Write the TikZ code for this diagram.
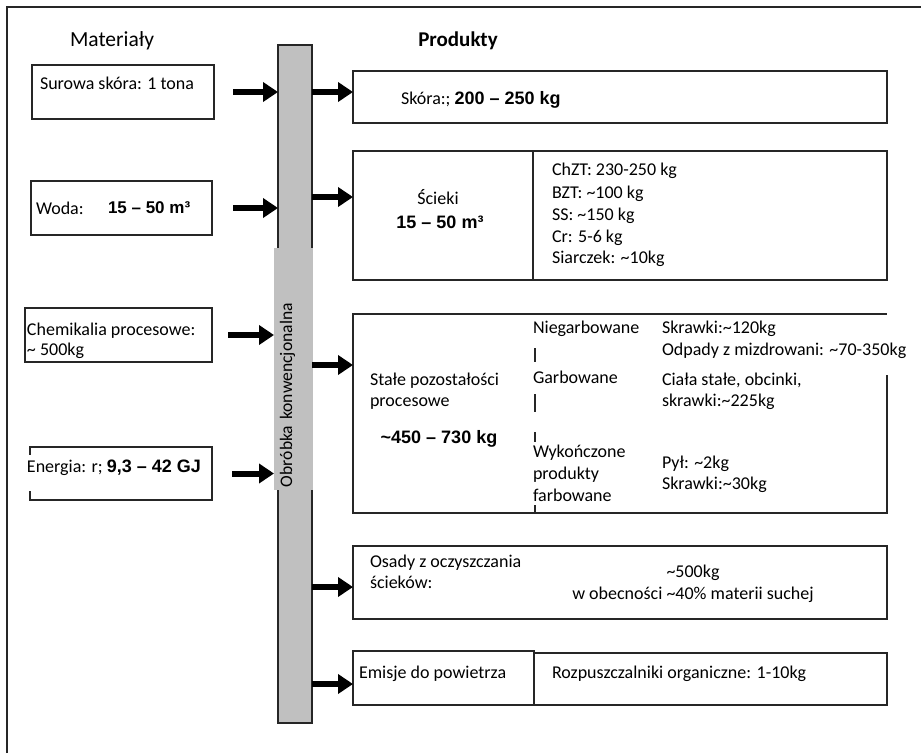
\documentclass[tikz,border=0pt]{standalone}
\usepackage{fontspec}
\setmainfont{Carlito}
\newfontfamily\numfont{Liberation Sans}
\usetikzlibrary{arrows.meta}

\definecolor{barfill}{HTML}{C0C0C0}
\definecolor{edge}{HTML}{262626}

% bold figures set in a grotesque face
\newcommand\bnum[1]{{\numfont\bfseries #1}}

\begin{document}
\begin{tikzpicture}[x=1pt,y=-1pt,
  every node/.style={inner sep=0pt, outer sep=0pt},
  txt/.style={anchor=base west, font=\fontsize{18}{22}\selectfont},
  ctxt/.style={anchor=base, font=\fontsize{18}{22}\selectfont},
  head/.style={anchor=base, font=\fontsize{21.5}{26}\selectfont},
  box/.style={draw=edge, line width=2pt, anchor=north west},
  openbox/.style={anchor=north west},
  edgeline/.style={draw=edge, line width=2pt},
  tick/.style={draw=edge, line width=1.4pt},
  bigarrow/.style={line width=6pt, -{Triangle[length=15pt,width=19pt]}}]

\useasboundingbox (0,0) rectangle (921,753);

% outer frame (top and left sides)
\draw[line width=2pt, draw=edge] (7,753) -- (7,7) -- (921,7);

% headings
\node[head] (hmat) at (112,46) {Materiały};
\node[head, font=\fontsize{21}{26}\selectfont\bfseries] (hprod) at (458,46) {Produkty};

% central process bar
\node[draw=edge, fill=barfill, line width=2pt, minimum width=34pt, minimum height=678pt, anchor=north west] (bar) at (278,45) {};
\node[fill=barfill, rotate=90, anchor=north west, minimum width=242pt,
      text height=18pt, text depth=21pt, text width=236pt, align=left, inner xsep=3pt,
      font=\fontsize{17.6}{20}\selectfont] (barlabel) at (274,490) {Obróbka konwencjonalna};

% ---- inputs ----
\node[box, minimum width=182pt, minimum height=54pt] (surowa) at (32,65) {};
\node[txt] (tsurowa) at (40,89) {Surowa skóra: 1 tona};

\node[box, minimum width=181pt, minimum height=54pt] (woda) at (31,181) {};
\node[txt] (twoda) at (36,214) {Woda:};
\node[txt, font=\fontsize{17}{20}\selectfont] (twodav) at (108,213) {\bnum{15 – 50 m³}};

\node[box, minimum width=187pt, minimum height=54pt] (chem) at (25,308) {};
\node[txt] (tchem1) at (27,335) {Chemikalia procesowe:};
\node[txt] (tchem2) at (27,355) {\textasciitilde{} 500kg};

\node[openbox, minimum width=182pt, minimum height=53pt] (energia) at (30,447) {};
\draw[edgeline] (energia.west |- 0,455) -- (energia.north west) -- (energia.north east)
  -- (energia.south east) -- (energia.south west) -- (energia.west |- 0,491);
\node[txt, fill=white, text height=17pt, text depth=19pt] (tenergia) at (27,472) {Energia: r; \bnum{9,3 – 42 GJ}};

\draw[bigarrow] ([xshift=19pt]surowa.east) -- (bar.west |- surowa.east);
\draw[bigarrow] ([xshift=21pt]woda.east) -- (bar.west |- woda.east);
\draw[bigarrow] ([xshift=16pt]chem.east) -- (barlabel.north |- chem.east);
\draw[bigarrow] ([xshift=20pt]energia.east) -- (barlabel.north |- energia.east);

% ---- products ----
\node[box, minimum width=534pt, minimum height=52pt] (skora) at (353,71) {};
\node[txt] (tskora) at (401,104) {Skóra:; \bnum{200 – 250 kg}};

\node[box, minimum width=534pt, minimum height=129pt] (scieki) at (353,151) {};
\draw[edgeline] (533,0 |- scieki.north) -- (533,0 |- scieki.south);
\node[ctxt] (tscieki1) at (438,204) {Ścieki};
\node[ctxt] (tscieki2) at (440,228) {\bnum{15 – 50 m³}};
\node[txt] (tsc1) at (552,175) {ChZT: 230-250 kg};
\node[txt] (tsc2) at (552,198) {BZT: \textasciitilde 100 kg};
\node[txt] (tsc3) at (552,220) {SS: \textasciitilde 150 kg};
\node[txt] (tsc4) at (552,242) {Cr: 5-6 kg};
\node[txt] (tsc5) at (552,263) {Siarczek: \textasciitilde 10kg};

\node[openbox, minimum width=534pt, minimum height=199pt] (stale) at (353,314) {};
\draw[edgeline] (stale.east |- 0,375) -- (stale.south east) -- (stale.south west)
  -- (stale.north west) -- (stale.north east);
\node[txt] (tst1) at (370,385) {Stałe pozostałości};
\node[txt] (tst2) at (370,406) {procesowe};
\node[ctxt] (tst3) at (439,443) {\bnum{\textasciitilde 450 – 730 kg}};
\node[txt] (tng) at (533,333) {Niegarbowane};
\node[txt] (tg) at (533,383) {Garbowane};
\node[txt] (tw1) at (533,457) {Wykończone};
\node[txt] (tw2) at (533,479) {produkty};
\node[txt] (tw3) at (533,501) {farbowane};
\draw[tick] (535,348) -- (535,362);
\draw[tick] (535,394) -- (535,412);
\draw[tick] (535,432) -- (535,442);
\draw[tick] (535,505) -- (535,513);
\node[txt] (tr1) at (662,333) {Skrawki:\textasciitilde 120kg};
\node[txt] (tr2) at (662,355) {Odpady z mizdrowani: \textasciitilde 70-350kg};
\node[txt] (tr3) at (662,385) {Ciała stałe, obcinki,};
\node[txt] (tr4) at (662,406) {skrawki:\textasciitilde 225kg};
\node[txt] (tr5) at (662,468) {Pył: \textasciitilde 2kg};
\node[txt] (tr6) at (662,489) {Skrawki:\textasciitilde 30kg};

\node[box, minimum width=534pt, minimum height=73pt] (osady) at (353,546) {};
\node[txt] (tos1) at (370,567) {Osady z oczyszczania};
\node[txt] (tos2) at (370,588) {ścieków:};
\node[ctxt] (tos3) at (693,577) {\textasciitilde 500kg};
\node[ctxt] (tos4) at (693,599) {w obecności \textasciitilde 40\% materii suchej};

\node[box, minimum width=181pt, minimum height=54pt] (emisje) at (353,651) {};
\node[box, minimum width=353pt, minimum height=52pt] (rozp) at (534,653) {};
\node[txt] (tem) at (359,678) {Emisje do powietrza};
\node[txt] (troz) at (552,678) {Rozpuszczalniki organiczne: 1-10kg};

% output arrows leave the bar at their own heights
\coordinate (yskora) at (0,92);
\coordinate (yscieki) at (0,197);
\coordinate (ystale) at (0,365);
\coordinate (yosady) at (0,587);
\coordinate (yemisje) at (0,684);
\draw[bigarrow] (bar.east |- yskora) -- (skora.west |- yskora);
\draw[bigarrow] (bar.east |- yscieki) -- (scieki.west |- yscieki);
\draw[bigarrow] (bar.east |- ystale) -- (stale.west |- ystale);
\draw[bigarrow] (bar.east |- yosady) -- (osady.west |- yosady);
\draw[bigarrow] (bar.east |- yemisje) -- (emisje.west |- yemisje);

\end{tikzpicture}
\end{document}
